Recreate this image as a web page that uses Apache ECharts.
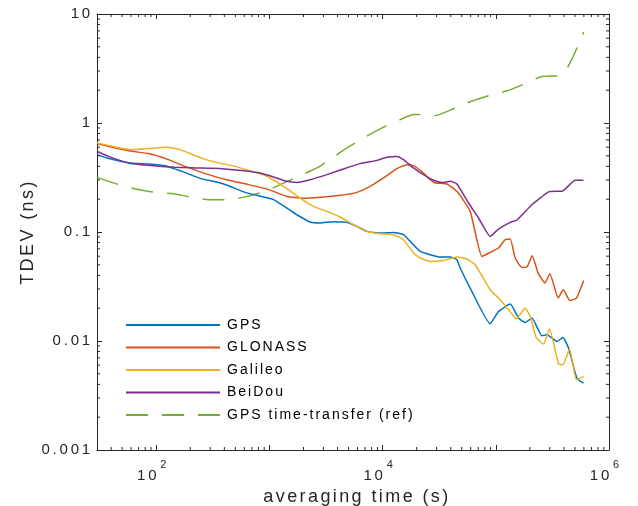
<!DOCTYPE html>
<html><head><meta charset="utf-8">
<script src="https://cdn.jsdelivr.net/npm/echarts@6/dist/echarts.min.js"></script>
<style>html,body{margin:0;padding:0;background:#fff;overflow:hidden}#chart{width:638px;height:506px}</style>
</head><body><div id="chart"></div>
<script>
// ---------- data ----------
const seriesNames = ['GPS', 'GLONASS', 'Galileo', 'BeiDou', 'GPS time-transfer (ref)'];

const gpsT = [30, 36.7, 58.9, 85.5, 120, 168.7, 253, 355, 435, 611, 918, 1087, 1427, 1750, 2293, 2811, 3684, 4837, 5929, 7265, 9525, 12486, 15300, 17532, 21490, 26340, 32270, 39550, 45330, 48480, 59410, 89250, 105650, 134100, 158700, 181900, 208400, 255400, 282800, 346500, 391600, 438800, 520500, 595400];
const gpsV = [0.513, 0.478, 0.430, 0.421, 0.406, 0.360, 0.307, 0.285, 0.266, 0.231, 0.208, 0.198, 0.166, 0.144, 0.1235, 0.121, 0.1243, 0.1226, 0.1125, 0.1013, 0.0979, 0.0992, 0.0945, 0.0820, 0.0664, 0.0619, 0.0589, 0.0589, 0.0557, 0.0467, 0.0306, 0.01439, 0.01866, 0.0218, 0.01623, 0.01479, 0.01623, 0.01116, 0.0114, 0.0099, 0.01077, 0.00861, 0.00456, 0.00411];

const glonassT = [30, 43.4, 61, 85.5, 128.4, 180.4, 290, 435, 654, 918, 1087, 1427, 2001, 2811, 4221, 5929, 7770, 10186, 13377, 16393, 18750, 22981, 26340, 29150, 36980, 45330, 59410, 75380, 89250, 105650, 121100, 134100, 148400, 170100, 188300, 209700, 236900, 271500, 300600, 355800, 393900, 451400, 516300, 597800];
const glonassV = [0.647, 0.591, 0.550, 0.524, 0.461, 0.400, 0.336, 0.298, 0.272, 0.250, 0.236, 0.212, 0.2035, 0.208, 0.217, 0.231, 0.262, 0.313, 0.381, 0.415, 0.406, 0.348, 0.302, 0.282, 0.276, 0.236, 0.1546, 0.0597, 0.0650, 0.0713, 0.0850, 0.0862, 0.0577, 0.0473, 0.0477, 0.0606, 0.0420, 0.0340, 0.0414, 0.0248, 0.0295, 0.0235, 0.0248, 0.0359];

const galileoT = [30, 43.4, 61, 85.5, 124, 163, 221, 290, 380, 499, 700, 918, 1016, 1332, 1871, 2453, 3221, 4221, 5533, 7265, 9525, 12486, 15300, 18750, 21490, 26340, 34510, 45330, 55550, 65770, 89250, 109400, 129500, 151400, 181900, 201300, 227500, 263900, 298100, 358000, 391600, 447800, 516300, 595400];
const galileoV = [0.657, 0.603, 0.570, 0.582, 0.598, 0.570, 0.502, 0.454, 0.424, 0.400, 0.360, 0.329, 0.313, 0.262, 0.205, 0.1718, 0.1546, 0.1373, 0.1167, 0.1013, 0.0965, 0.0945, 0.0850, 0.0642, 0.0577, 0.0537, 0.0548, 0.0589, 0.0565, 0.0501, 0.0295, 0.0239, 0.01935, 0.0160, 0.01997, 0.0168, 0.01077, 0.00937, 0.01286, 0.00617, 0.00604, 0.00843, 0.00440, 0.00474];

const beidouT = [30, 37.9, 56.9, 85.5, 147, 221, 380, 571, 829, 1087, 1427, 1750, 2293, 3221, 4514, 6340, 8905, 10915, 13377, 15300, 18750, 22981, 28170, 33410, 39550, 45330, 57400, 70350, 89250, 105650, 134100, 153600, 208400, 292100, 334700, 383700, 502800, 595400];
const beidouV = [0.550, 0.494, 0.430, 0.409, 0.392, 0.387, 0.381, 0.366, 0.348, 0.320, 0.2915, 0.285, 0.302, 0.336, 0.379, 0.424, 0.454, 0.484, 0.494, 0.461, 0.387, 0.336, 0.298, 0.285, 0.2915, 0.276, 0.1846, 0.1345, 0.0911, 0.1065, 0.1226, 0.1289, 0.178, 0.233, 0.236, 0.236, 0.298, 0.298];

const refT = [30, 46.5, 65.2, 98, 137.6, 206.8, 290, 435, 611, 918, 1246, 1871, 2628, 3684, 4837, 6780, 9525, 14308, 18750, 22981, 29150, 40620, 61000, 83430, 126100, 169400, 254400, 355800, 410400, 468300, 537800, 597800];
const refV = [0.317, 0.272, 0.248, 0.231, 0.225, 0.208, 0.198, 0.198, 0.210, 0.236, 0.272, 0.329, 0.387, 0.488, 0.591, 0.730, 0.883, 1.074, 1.194, 1.194, 1.169, 1.327, 1.582, 1.758, 1.975, 2.228, 2.667, 2.725, 2.983, 3.82, 5.25, 6.84];

// tick labels
const xTickValues = [100, 10000, 1000000];
const xTickExponents = ['2', '4', '6'];
const yTickValues = [0.001, 0.01, 0.1, 1, 10];
const yTickLabels = ['0.001', '0.01', '0.1', '1', '10'];
const xMinorTicks = [40, 50, 60, 70, 80, 90, 200, 300, 400, 500, 600, 700, 800, 900, 2000, 3000, 4000, 5000, 6000, 7000, 8000, 9000, 20000, 30000, 40000, 50000, 60000, 70000, 80000, 90000, 200000, 300000, 400000, 500000, 600000, 700000, 800000, 900000];
const yMinorTicks = [0.002, 0.003, 0.004, 0.005, 0.006, 0.007, 0.008, 0.009, 0.02, 0.03, 0.04, 0.05, 0.06, 0.07, 0.08, 0.09, 0.2, 0.3, 0.4, 0.5, 0.6, 0.7, 0.8, 0.9, 2, 3, 4, 5, 6, 7, 8, 9];
const xMin = 30, xMax = 1000000, yMin = 0.001, yMax = 10;

// ---------- text spacing (the reference text is set with wide glyph spacing) ----------
const spacingBySize = { '14': '2px', '15': '2.8px', '18': '2.4px' };
(function () {
  const P = CanvasRenderingContext2D.prototype;
  if (!('letterSpacing' in P)) return;
  const orig = P.fillText;
  P.fillText = function (t, x, y, w) {
    const m = /(\d+(?:\.\d+)?)px/.exec(this.font || '');
    const ls = m ? spacingBySize[m[1]] : undefined;
    if (ls === undefined) return w === undefined ? orig.call(this, t, x, y) : orig.call(this, t, x, y, w);
    const prev = this.letterSpacing;
    this.letterSpacing = ls;
    const r = w === undefined ? orig.call(this, t, x, y) : orig.call(this, t, x, y, w);
    this.letterSpacing = prev;
    return r;
  };
})();

// ---------- chart ----------
const FONT = "'Liberation Sans', Arial, Helvetica, sans-serif";
const AX = '#262626';
const colors = ['#0072BD', '#D95319', '#EDB120', '#7E2F8E', '#77AC30'];
const pair = (t, v) => t.map((x, i) => [x, v[i]]);

function matchIdx(vals, v) {
  const lv = Math.log10(v);
  for (let i = 0; i < vals.length; i++) if (Math.abs(Math.log10(vals[i]) - lv) < 1e-6) return i;
  return -1;
}

const baseX = {
  type: 'log', logBase: 10, min: xMin, max: xMax, gridIndex: 0,
  axisLine: { show: true, onZero: false, lineStyle: { color: AX, width: 1 } },
  axisTick: { show: true, inside: true, length: 5, lineStyle: { color: AX, width: 1 } },
  splitLine: { show: false }, minorTick: { show: false }
};
const baseY = {
  type: 'log', logBase: 10, min: yMin, max: yMax, gridIndex: 0,
  axisLine: { show: true, onZero: false, lineStyle: { color: AX, width: 1 } },
  axisTick: { show: true, inside: true, length: 5, lineStyle: { color: AX, width: 1 } },
  splitLine: { show: false }, minorTick: { show: false }
};

function tickRender(isX) {
  return function (params, api) {
    const v = api.value(isX ? 0 : 1);
    const L = 3;
    const style = { stroke: AX, lineWidth: 1 };
    if (isX) {
      const a = api.coord([v, yMin]), b = api.coord([v, yMax]);
      return { type: 'group', children: [
        { type: 'line', shape: { x1: a[0], y1: a[1], x2: a[0], y2: a[1] - L }, style },
        { type: 'line', shape: { x1: b[0], y1: b[1], x2: b[0], y2: b[1] + L }, style }
      ]};
    } else {
      const a = api.coord([xMin, v]), b = api.coord([xMax, v]);
      return { type: 'group', children: [
        { type: 'line', shape: { x1: a[0], y1: a[1], x2: a[0] + L, y2: a[1] }, style },
        { type: 'line', shape: { x1: b[0], y1: b[1], x2: b[0] - L, y2: b[1] }, style }
      ]};
    }
  };
}

const lineSeries = [
  [gpsT, gpsV], [glonassT, glonassV], [galileoT, galileoV], [beidouT, beidouV], [refT, refV]
].map((d, i) => ({
  name: seriesNames[i], type: 'line', data: pair(d[0], d[1]),
  showSymbol: false, symbol: 'none', smooth: 0.15,
  lineStyle: { color: colors[i], width: 1.5, type: i === 4 ? [22, 14] : 'solid' },
  itemStyle: { color: colors[i] },
  z: 2 + (i === 4 ? 0 : 1), animation: false
}));

const chart = echarts.init(document.getElementById('chart'), null, { renderer: 'canvas' });
chart.setOption({
  animation: false,
  color: colors,
  grid: { left: 97, right: 29, top: 14, bottom: 56, containLabel: false, outerBoundsMode: 'none' },
  xAxis: [
    Object.assign({}, baseX, {
      position: 'bottom',
      name: 'averaging time (s)', nameLocation: 'middle', nameGap: 33,
      nameTextStyle: { fontFamily: FONT, fontSize: 18, color: AX, padding: [0, 0, 0, 8] },
      axisLabel: {
        show: true, margin: 9, showMinLabel: true, showMaxLabel: true,
        formatter: function (v) {
          const i = matchIdx(xTickValues, v);
          return i < 0 ? '' : '{b|10}{s|' + xTickExponents[i] + '}';
        },
        rich: {
          b: { fontFamily: FONT, fontSize: 15, color: AX, lineHeight: 24, verticalAlign: 'bottom' },
          s: { fontFamily: FONT, fontSize: 11, color: AX, verticalAlign: 'top', padding: [0, 5, 0, 5] }
        }
      }
    }),
    Object.assign({}, baseX, { position: 'top', axisLabel: { show: false } })
  ],
  yAxis: [
    Object.assign({}, baseY, {
      position: 'left',
      name: 'TDEV (ns)', nameLocation: 'middle', nameGap: 60, nameRotate: 90,
      nameTextStyle: { fontFamily: FONT, fontSize: 18, color: AX },
      axisLabel: {
        show: true, margin: 4, fontFamily: FONT, fontSize: 15, color: AX,
        formatter: function (v) {
          const i = matchIdx(yTickValues, v);
          return i < 0 ? '' : yTickLabels[i];
        }
      }
    }),
    Object.assign({}, baseY, { position: 'right', axisLabel: { show: false } })
  ],
  legend: {
    data: seriesNames, orient: 'vertical', left: 125, top: 318,
    itemWidth: 94, itemHeight: 14, itemGap: 8.5,
    padding: 0,
    itemStyle: { color: 'rgba(0,0,0,0)', borderWidth: 0, opacity: 0 },
    textStyle: { fontFamily: FONT, fontSize: 14, color: '#000', padding: [0, 0, 0, 2] },
    selectedMode: false
  },
  series: lineSeries.concat([
    { type: 'custom', name: 'xminor', silent: true, clip: false, z: 10,
      data: xMinorTicks.map(v => [v, yMin]), encode: { x: 0, y: 1 }, renderItem: tickRender(true) },
    { type: 'custom', name: 'yminor', silent: true, clip: false, z: 10,
      data: yMinorTicks.map(v => [xMin, v]), encode: { x: 0, y: 1 }, renderItem: tickRender(false) }
  ])
});
</script>
</body></html>
